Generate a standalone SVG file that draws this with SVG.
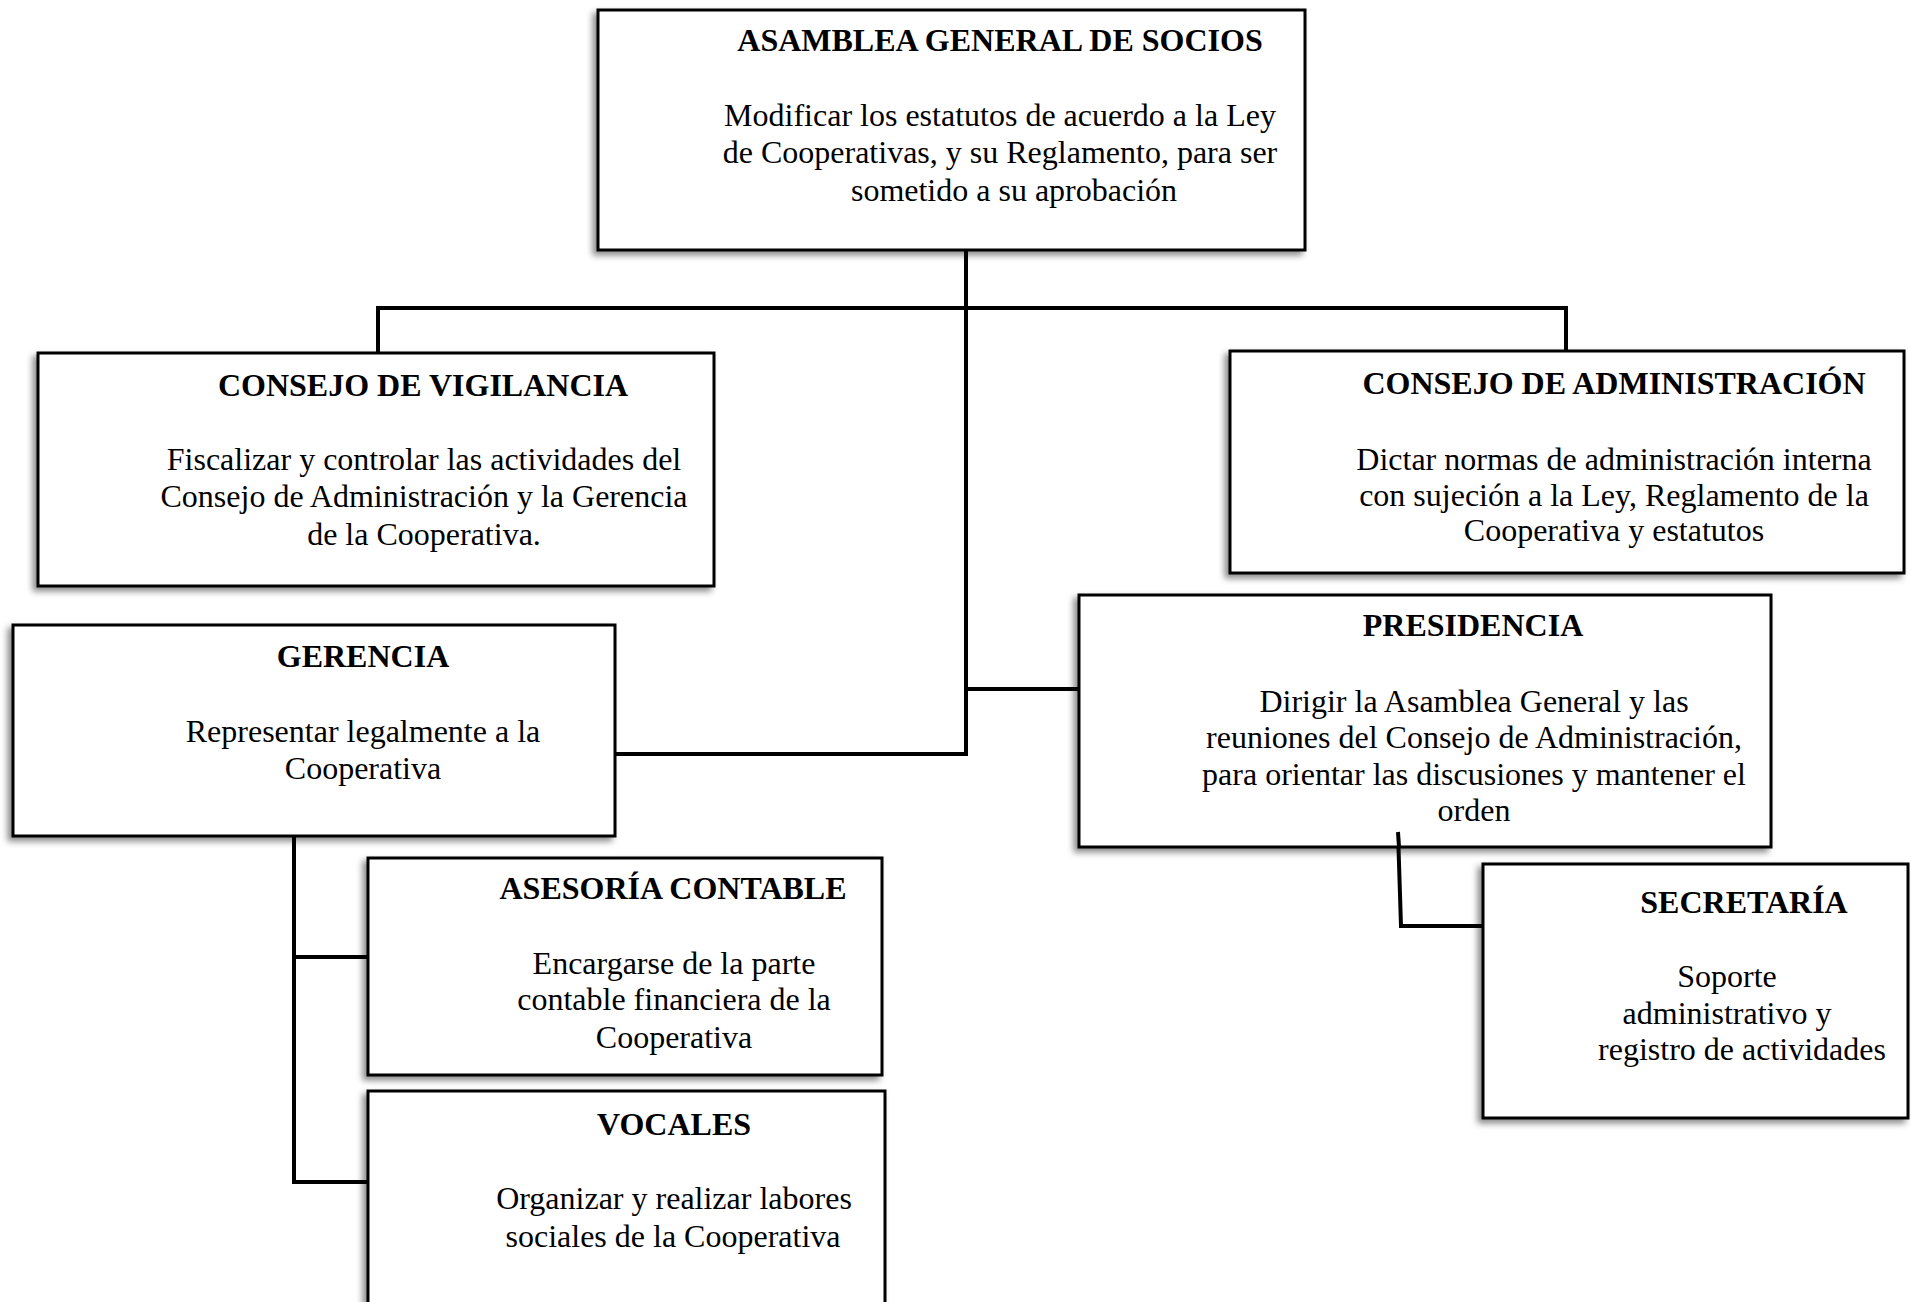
<svg xmlns="http://www.w3.org/2000/svg" width="1911" height="1302" viewBox="0 0 1911 1302">
<style>
.box{fill:#fff;stroke:#000;stroke-width:3;filter:url(#sh);}
.t{font-family:"Liberation Serif","Times New Roman",serif;font-size:32px;font-weight:bold;text-anchor:middle;fill:#000;}
.b{font-family:"Liberation Serif","Times New Roman",serif;font-size:32px;text-anchor:middle;fill:#000;}
.c{fill:none;stroke:#000;stroke-width:4;}
</style>
<defs>
<filter id="sh" x="-10%" y="-10%" width="120%" height="125%">
<feDropShadow dx="-4" dy="4" stdDeviation="3" flood-color="#000" flood-opacity="0.45"/>
</filter>
</defs>
<rect width="1911" height="1302" fill="#fff"/>
<g id="connectors">
<line class="c" x1="966" y1="250" x2="966" y2="756"/>
<line class="c" x1="376" y1="308" x2="1568" y2="308"/>
<line class="c" x1="378" y1="308" x2="378" y2="353"/>
<line class="c" x1="1566" y1="308" x2="1566" y2="351"/>
<line class="c" x1="615" y1="754" x2="968" y2="754"/>
<line class="c" x1="966" y1="689" x2="1079" y2="689"/>
<polyline class="c" points="1398,832 1401,926 1483,926"/>
<line class="c" x1="294" y1="836" x2="294" y2="1184"/>
<line class="c" x1="292" y1="957" x2="368" y2="957"/>
<line class="c" x1="292" y1="1182" x2="368" y2="1182"/>
</g>
<g id="asamblea">
<rect class="box" x="598" y="10" width="707" height="240"/>
<text class="t" x="1000" y="51">ASAMBLEA GENERAL DE SOCIOS</text>
<text class="b" x="1000" y="126">Modificar los estatutos de acuerdo a la Ley</text>
<text class="b" x="1000" y="163">de Cooperativas, y su Reglamento, para ser</text>
<text class="b" x="1014" y="201">sometido a su aprobación</text>
</g>
<g id="vigilancia">
<rect class="box" x="38" y="353" width="676" height="233"/>
<text class="t" x="423" y="396">CONSEJO DE VIGILANCIA</text>
<text class="b" x="424" y="470">Fiscalizar y controlar las actividades del</text>
<text class="b" x="424" y="507">Consejo de Administración y la Gerencia</text>
<text class="b" x="424" y="545">de la Cooperativa.</text>
</g>
<g id="administracion">
<rect class="box" x="1230" y="351" width="674" height="222"/>
<text class="t" x="1614" y="394">CONSEJO DE ADMINISTRACIÓN</text>
<text class="b" x="1614" y="470">Dictar normas de administración interna</text>
<text class="b" x="1614" y="506">con sujeción a la Ley, Reglamento de la</text>
<text class="b" x="1614" y="541">Cooperativa y estatutos</text>
</g>
<g id="gerencia">
<rect class="box" x="13" y="625" width="602" height="211"/>
<text class="t" x="363" y="667">GERENCIA</text>
<text class="b" x="363" y="742">Representar legalmente a la</text>
<text class="b" x="363" y="779">Cooperativa</text>
</g>
<g id="presidencia">
<rect class="box" x="1079" y="595" width="692" height="252"/>
<text class="t" x="1473" y="636">PRESIDENCIA</text>
<text class="b" x="1474" y="712">Dirigir la Asamblea General y las</text>
<text class="b" x="1474" y="748">reuniones del Consejo de Administración,</text>
<text class="b" x="1474" y="785">para orientar las discusiones y mantener el</text>
<text class="b" x="1474" y="821">orden</text>
</g>
<line class="c" x1="1398" y1="832" x2="1399" y2="847"/>
<g id="secretaria">
<rect class="box" x="1483" y="864" width="425" height="254"/>
<text class="t" x="1744" y="913">SECRETARÍA</text>
<text class="b" x="1727" y="987">Soporte</text>
<text class="b" x="1727" y="1024">administrativo y</text>
<text class="b" x="1742" y="1060">registro de actividades</text>
</g>
<g id="asesoria">
<rect class="box" x="368" y="858" width="514" height="217"/>
<text class="t" x="673" y="899">ASESORÍA CONTABLE</text>
<text class="b" x="674" y="974">Encargarse de la parte</text>
<text class="b" x="674" y="1010">contable financiera de la</text>
<text class="b" x="674" y="1048">Cooperativa</text>
</g>
<g id="vocales">
<rect class="box" x="368" y="1091" width="517" height="240"/>
<text class="t" x="674" y="1135">VOCALES</text>
<text class="b" x="674" y="1209">Organizar y realizar labores</text>
<text class="b" x="673" y="1247">sociales de la Cooperativa</text>
</g>
</svg>
